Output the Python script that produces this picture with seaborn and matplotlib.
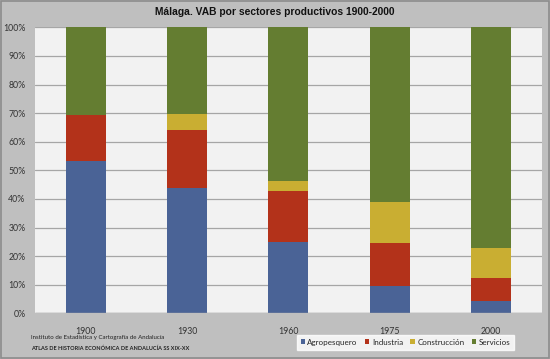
import pandas as pd
import numpy as np
import seaborn as sns
import matplotlib.pyplot as plt
from matplotlib.patches import Patch, Rectangle

sns.set_theme(style="whitegrid")
plt.rcParams['font.family'] = ['Lato', 'DejaVu Sans']

years = ["1900", "1930", "1960", "1975", "2000"]
sectors = ["Agropesquero", "Industria", "Construcción", "Servicios"]
agro = [53.4, 43.7, 24.9, 9.5, 4.3]
industria = [15.8, 20.4, 17.8, 15.2, 8.0]
construccion = [0.0, 5.5, 3.7, 14.1, 10.4]
servicios = [30.8, 30.4, 53.6, 61.2, 77.3]
colors = ["#4a6396", "#b3321a", "#c9ae32", "#647d31"]

df = pd.DataFrame({"Año": years, "Agropesquero": agro, "Industria": industria,
                   "Construcción": construccion, "Servicios": servicios})
cum = df[sectors].cumsum(axis=1)

fig = plt.figure(figsize=(5.5, 3.59), dpi=100)
fig.patch.set_facecolor("#bfbfbf")
ax = fig.add_axes([0.064, 0.127, 0.921, 0.797])
ax.set_facecolor("#f2f2f2")

# stacked bars: draw cumulative totals from top to bottom
for s, c in zip(sectors[::-1], colors[::-1]):
    sns.barplot(x=df["Año"], y=cum[s], color=c, width=0.395, ax=ax,
                saturation=1, edgecolor="none", linewidth=0, zorder=2)

ax.set_ylim(0, 100)
ax.set_xlim(-0.5, 4.5)
ax.set_yticks(np.arange(0, 101, 10))
ax.set_yticklabels([f"{v}%" for v in range(0, 101, 10)], fontsize=6.3, color="#333333")
ax.tick_params(axis="x", labelsize=6.3, labelcolor="#333333", pad=4)
ax.tick_params(axis="y", pad=1)
ax.set_xlabel("")
ax.set_ylabel("")
ax.grid(axis="y", color="#a6a6a6", linewidth=0.9)
ax.grid(axis="x", visible=False)
ax.set_axisbelow(True)
for sp in ax.spines.values():
    sp.set_visible(False)
ax.axhline(0, color="#a6a6a6", linewidth=1, zorder=3)

fig.text(0.5, 0.966, "Málaga. VAB por sectores productivos 1900-2000",
         ha="center", va="center", fontsize=7.4, fontweight="bold",
         family=["Liberation Sans", "DejaVu Sans"], color="#111111")

fig.text(0.057, 0.060, "Instituto de Estadística y Cartografía de Andalucía",
         fontsize=4.4, color="#222222", va="center")
fig.text(0.057, 0.030, "ATLAS DE HISTORIA ECONÓMICA DE ANDALUCÍA SS XIX-XX",
         fontsize=4.0, fontweight="bold", color="#222222", va="center")

handles = [Patch(facecolor=c, edgecolor="none") for c in colors]
leg = fig.legend(handles, sectors, loc="center", bbox_to_anchor=(0.737, 0.047),
                 ncol=4, fontsize=5.8, frameon=True, fancybox=False,
                 handlelength=0.55, handleheight=0.55, handletextpad=0.3,
                 columnspacing=0.9, borderpad=0.5)
leg.get_frame().set_facecolor("white")
leg.get_frame().set_edgecolor("white")

fig.patches.append(Rectangle((0.002, 0.003), 0.996, 0.994, transform=fig.transFigure,
                             fill=False, edgecolor="#8c8c8c", linewidth=1.2))

fig.savefig("out.png", dpi=100, facecolor=fig.get_facecolor())
